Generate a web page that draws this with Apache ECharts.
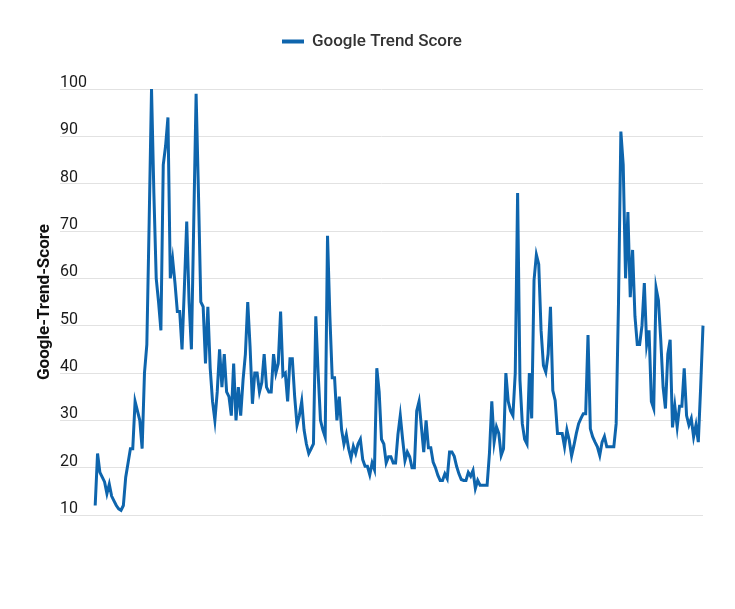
<!DOCTYPE html>
<html>
<head>
<meta charset="utf-8">
<script src="https://cdn.jsdelivr.net/npm/echarts@6/dist/echarts.min.js"></script>
<style>
html,body{margin:0;padding:0;background:#fff;}
#chart{width:735px;height:609px;}
</style>
</head>
<body>
<div id="chart"></div>
<script>
const seriesName = "Google Trend Score";
const yAxisName = "Google-Trend-Score";
const yTicks = [10, 20, 30, 40, 50, 60, 70, 80, 90, 100];
const scores = [
  12, 23, 19, 18, 17, 14.5, 16.5, 14, 13, 12,
  11.3, 11, 12, 18, 21, 24, 24, 34, 32, 30,
  24, 40, 46, 72, 100, 78, 60, 55, 49, 84,
  88, 94, 60, 64, 59, 53, 53, 45, 58, 72,
  55, 45, 72, 99, 78, 55, 54, 42, 54, 41,
  34, 30, 36, 45, 37, 44, 36, 35, 31, 42,
  30, 37, 31, 38.5, 44, 55, 45.5, 33.5, 40, 40,
  36, 38, 44, 37, 36, 36, 44, 40, 42, 53,
  39.5, 40, 34, 43, 43, 35, 29, 31, 34, 28,
  25, 23, 24, 25, 52, 40, 30, 28, 26.5, 69,
  52, 39, 39, 30, 35, 28, 25, 27, 24, 22,
  24.5, 23, 25, 26, 21.7, 20.3, 20.3, 18.5, 21, 19.6,
  41, 36, 26, 25, 21, 22.3, 22.3, 21, 21, 27,
  31, 26, 21.5, 23.3, 22.3, 20, 20, 32, 34, 28.6,
  23.3, 30, 24.2, 24.2, 21.2, 20, 18.4, 17.3, 17.3, 18.7,
  17.7, 23.3, 23.3, 22.4, 20.3, 18.7, 17.5, 17.3, 17.3, 19,
  18.2, 19.4, 15.6, 17.3, 16.3, 16.3, 16.3, 16.3, 23, 34,
  25.4, 28.6, 27.2, 22.6, 24, 40, 34, 32, 31, 40,
  78, 38.5, 29.3, 26, 25, 40, 30.4, 59.6, 65, 63,
  49, 41.6, 40.2, 44, 54, 36.3, 34.2, 27.2, 27.2, 27.2,
  24.4, 28, 25.8, 22.5, 24.7, 27.2, 29.3, 30.4, 31.4, 31.4,
  48, 28.2, 26.5, 25.4, 24.4, 22.6, 25.4, 26.6, 24.4, 24.4,
  24.4, 24.4, 29.3, 55, 91, 84, 60, 74, 56, 66,
  52, 46, 46, 50, 59, 46, 49, 34, 32.5, 58,
  55.4, 47, 37, 32.5, 44, 47, 28.5, 33, 28.6, 33,
  33, 41, 31, 29, 30.4, 26.5, 29, 25.4, 37, 50
];
const points = scores.map((v, i) => [i, v]);

const chart = echarts.init(document.getElementById('chart'), null, {renderer: 'canvas'});
chart.setOption({
  animation: false,
  backgroundColor: '#ffffff',
  textStyle: {fontFamily: 'Roboto'},
  legend: {
    data: [seriesName],
    top: 33,
    left: 282,
    padding: 0,
    itemWidth: 22,
    itemHeight: 4,
    icon: 'rect',
    textStyle: {fontFamily: 'Roboto', fontSize: 17, fontWeight: 500, color: '#333333', padding: [2, 0, 0, 3]}
  },
  grid: {left: 60, right: 32, top: 89, bottom: 94, containLabel: false},
  xAxis: {
    type: 'value',
    min: -15,
    max: scores.length - 1,
    show: false
  },
  yAxis: {
    type: 'value',
    min: yTicks[0],
    max: yTicks[yTicks.length - 1],
    interval: 10,
    name: yAxisName,
    nameLocation: 'middle',
    nameRotate: 90,
    nameGap: 7,
    nameMoveOverlap: false,
    nameTextStyle: {fontFamily: 'Roboto', fontSize: 17, fontWeight: 'bold', color: '#111111'},
    axisLine: {show: false},
    axisTick: {show: false},
    splitLine: {show: true, lineStyle: {color: '#e2e2e2', width: 1}},
    axisLabel: {
      inside: true,
      align: 'left',
      verticalAlign: 'bottom',
      margin: 0,
      lineHeight: 12,
      padding: 0,
      fontFamily: 'Roboto',
      fontSize: 16,
      color: '#1a1a1a'
    }
  },
  series: [{
    name: seriesName,
    type: 'line',
    data: points,
    showSymbol: false,
    symbol: 'none',
    lineStyle: {color: '#0e65ad', width: 3, join: 'miter'},
    itemStyle: {color: '#0e65ad'}
  }]
});
</script>
</body>
</html>
